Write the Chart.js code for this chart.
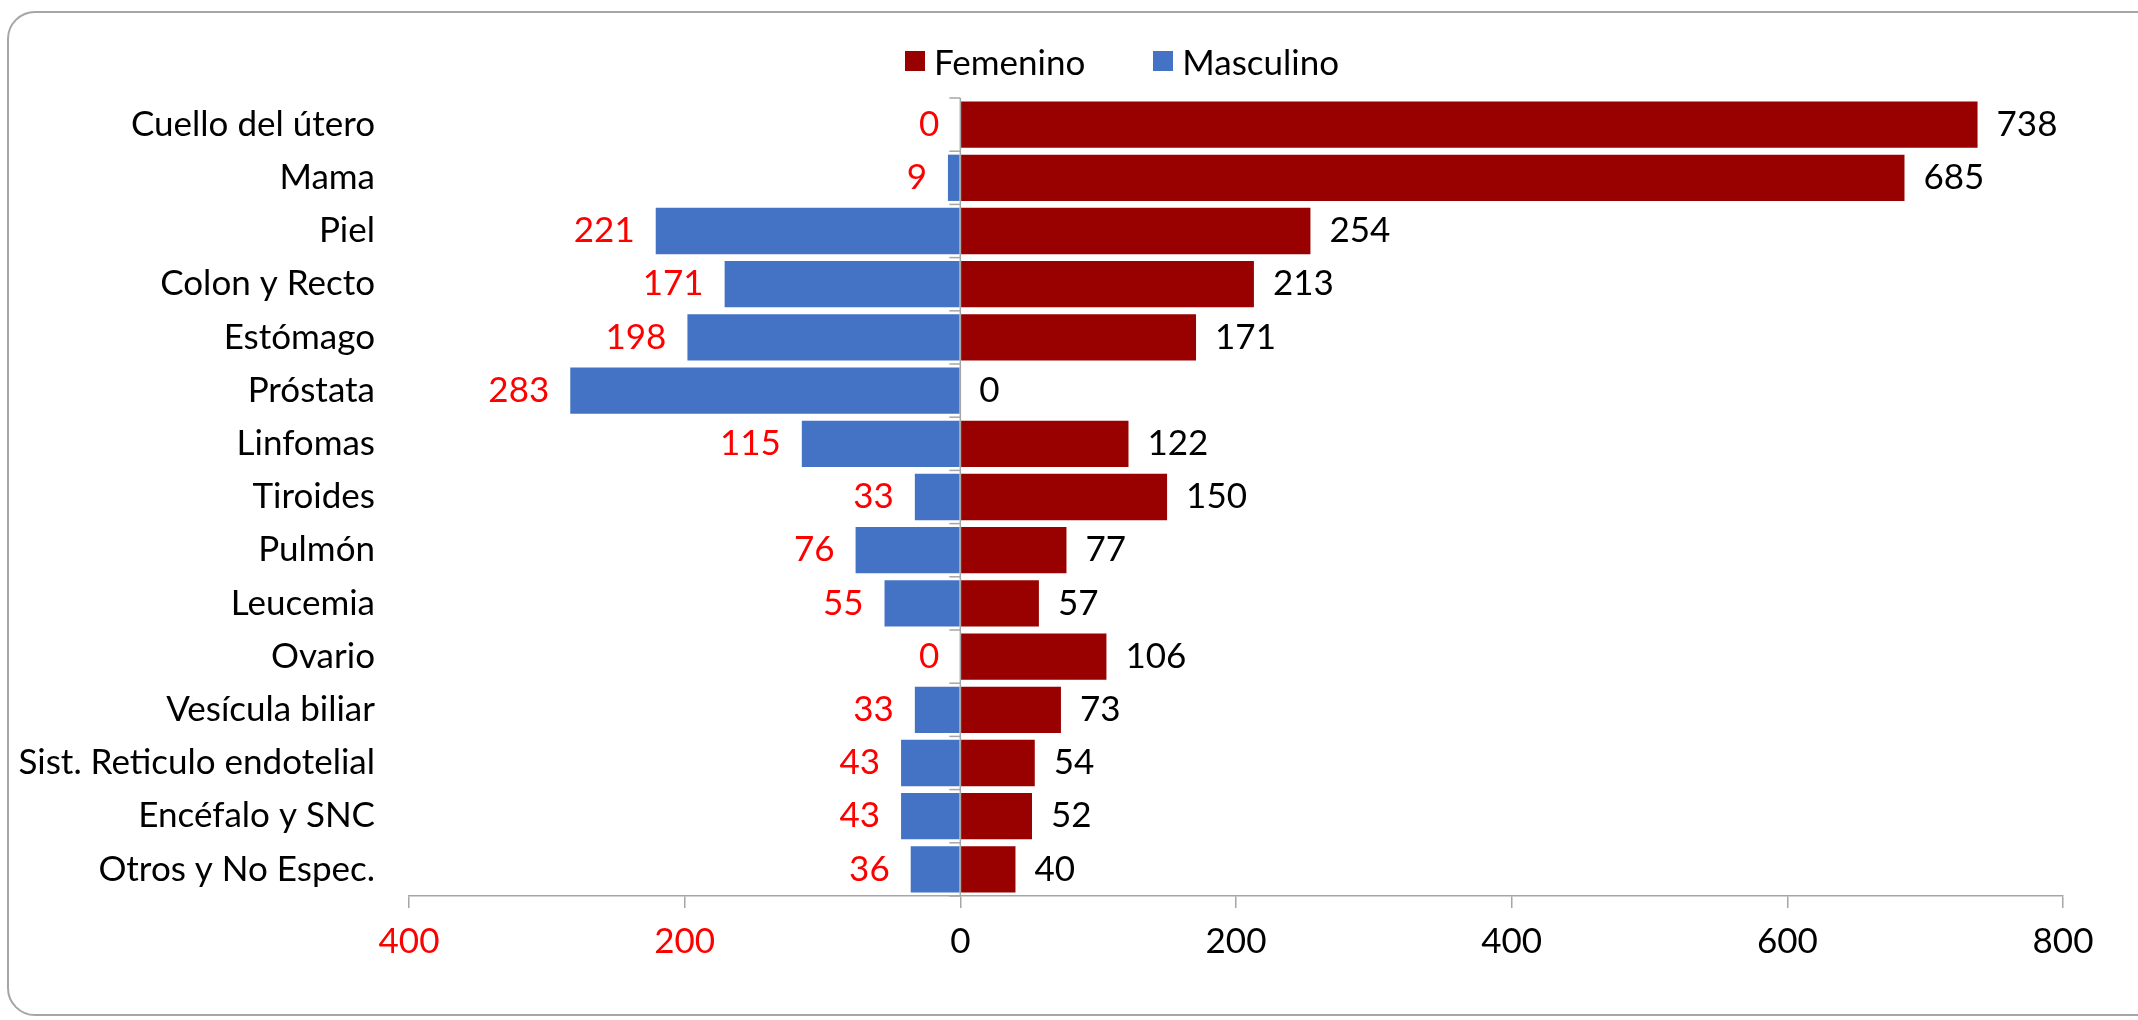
<!DOCTYPE html>
<html><head><meta charset="utf-8">
<script src="https://cdn.jsdelivr.net/npm/chart.js@4.4.1/dist/chart.umd.min.js"></script>
<style>
html,body{margin:0;padding:0;background:#fff;overflow:hidden;width:2138px;height:1020px;}
#frame{position:absolute;left:7px;top:11px;width:2300px;height:1005px;border:2px solid #A6A6A6;border-radius:28px;box-sizing:border-box;}
#c{position:absolute;left:0;top:0;}
#legend{position:absolute;left:905px;top:41px;height:40px;display:flex;align-items:center;font-family:Lato,sans-serif;font-size:35px;line-height:40px;color:#000;}
.item{display:flex;align-items:center;margin-right:68px;}
.sw{width:20px;height:20px;margin-right:9px;}
</style></head>
<body>
<div id="frame"></div>
<canvas id="c" width="2138" height="1020"></canvas>
<div id="legend"></div>
<script>
const categories = ["Cuello del útero","Mama","Piel","Colon y Recto","Estómago","Próstata","Linfomas","Tiroides","Pulmón","Leucemia","Ovario","Vesícula biliar","Sist. Reticulo endotelial","Encéfalo y SNC","Otros y No Espec."];
const femenino  = [738, 685, 254, 213, 171, 0, 122, 150, 77, 57, 106, 73, 54, 52, 40];
const masculino = [0, 9, 221, 171, 198, 283, 115, 33, 76, 55, 0, 33, 43, 43, 36];
const xTickValues = [-400, -200, 0, 200, 400, 600, 800];
const seriesNames = ["Femenino", "Masculino"];

const RED = '#990000', BLUE = '#4472C4', GRAY = '#A6A6A6';
const FONT = 'Lato, sans-serif';
const FS = 35;

const zeroLinePlugin = {
  id: 'zeroLine',
  afterDatasetsDraw(chart) {
    const {ctx, chartArea, scales:{x, y}} = chart;
    const x0 = x.getPixelForValue(0);
    const half = (y.getPixelForValue(1) - y.getPixelForValue(0)) / 2;
    ctx.save();
    ctx.strokeStyle = GRAY; ctx.lineWidth = 1.5;
    ctx.beginPath(); ctx.moveTo(x0, chartArea.top); ctx.lineTo(x0, chartArea.bottom); ctx.stroke();
    const n = categories.length;
    for (let i = 0; i <= n; i++) {
      const yy = (i < n) ? y.getPixelForValue(i) - half : y.getPixelForValue(n - 1) + half;
      ctx.beginPath(); ctx.moveTo(x0 - 11, yy); ctx.lineTo(x0, yy); ctx.stroke();
    }
    ctx.restore();
  }
};

const labelPlugin = {
  id: 'valueLabels',
  afterDatasetsDraw(chart) {
    const {ctx} = chart;
    ctx.save();
    ctx.font = FS + 'px ' + FONT;
    ctx.textBaseline = 'middle';
    const src = [femenino, masculino];
    chart.data.datasets.forEach((ds, di) => {
      const meta = chart.getDatasetMeta(di);
      meta.data.forEach((el, j) => {
        const txt = String(src[di][j]);
        if (di === 0) { ctx.fillStyle = '#000000'; ctx.textAlign = 'left'; ctx.fillText(txt, el.x + 19, el.y); }
        else { ctx.fillStyle = '#FF0000'; ctx.textAlign = 'right'; ctx.fillText(txt, el.x - 21, el.y); }
      });
    });
    ctx.restore();
  }
};

const chart = new Chart(document.getElementById('c').getContext('2d'), {
  type: 'bar',
  data: {
    labels: categories,
    datasets: [
      {label: seriesNames[0], data: femenino, backgroundColor: RED, barPercentage: 0.87, categoryPercentage: 1, grouped: false},
      {label: seriesNames[1], data: masculino.map(v => -v), backgroundColor: BLUE, barPercentage: 0.87, categoryPercentage: 1, grouped: false}
    ]
  },
  options: {
    indexAxis: 'y', responsive: false, animation: false,
    layout: {padding: {top: 98, right: 75, bottom: 0, left: 0}},
    plugins: {legend: {display: false}, tooltip: {enabled: false}},
    scales: {
      x: {
        type: 'linear', min: -400, max: 800,
        afterBuildTicks: s => { s.ticks = xTickValues.map(v => ({value: v})); },
        grid: {drawOnChartArea: false, drawTicks: true, tickLength: 12, color: GRAY, lineWidth: 1.5},
        border: {display: true, color: GRAY, width: 1.5},
        ticks: {padding: 13, font: {family: FONT, size: FS}, color: c => c.tick.value < 0 ? '#FF0000' : '#000000',
                callback: v => String(Math.abs(v)), maxRotation: 0, autoSkip: false},
        afterFit: s => { s.height = 124; }
      },
      y: {
        grid: {display: false, drawTicks: false},
        border: {display: false},
        ticks: {padding: 34, font: {family: FONT, size: FS}, color: '#000000', autoSkip: false},
        afterFit: s => { s.width = 409; }
      }
    }
  },
  plugins: [zeroLinePlugin, labelPlugin]
});

const lg = document.getElementById('legend');
chart.data.datasets.forEach(ds => {
  const it = document.createElement('div'); it.className = 'item';
  const sw = document.createElement('div'); sw.className = 'sw'; sw.style.background = ds.backgroundColor;
  const tx = document.createElement('span'); tx.textContent = ds.label;
  it.appendChild(sw); it.appendChild(tx); lg.appendChild(it);
});
</script>
</body></html>
